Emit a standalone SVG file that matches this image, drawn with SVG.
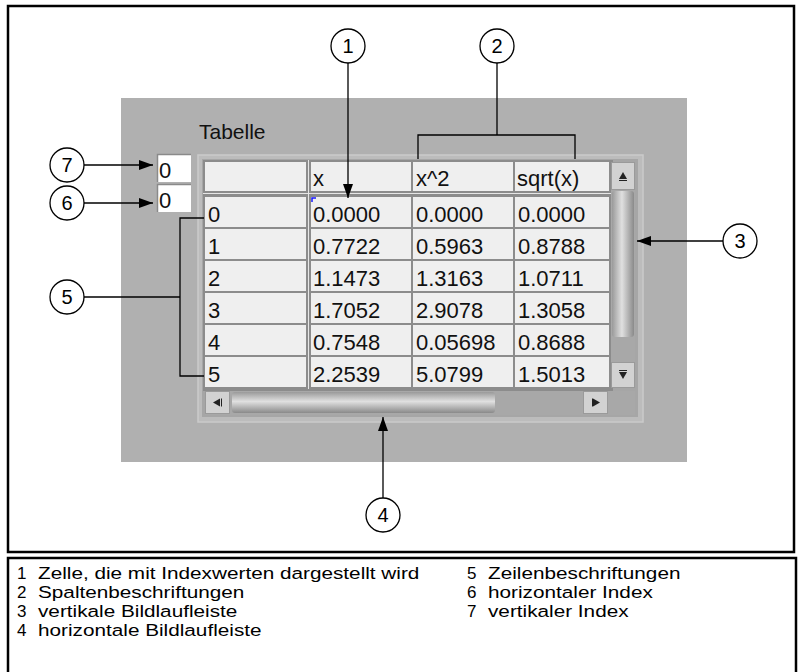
<svg xmlns="http://www.w3.org/2000/svg" width="799" height="672" viewBox="0 0 799 672">
<defs>
<marker id="ah" markerUnits="userSpaceOnUse" markerWidth="15" markerHeight="11" refX="14" refY="5" orient="auto"><path d="M0,0 L14,5 L0,10 z" fill="#000"/></marker>
<linearGradient id="vthumb" x1="0" y1="0" x2="1" y2="0"><stop offset="0" stop-color="#9a9a9a"/><stop offset="0.45" stop-color="#e0e0e0"/><stop offset="1" stop-color="#8a8a8a"/></linearGradient>
<linearGradient id="hthumb" x1="0" y1="0" x2="0" y2="1"><stop offset="0" stop-color="#9a9a9a"/><stop offset="0.45" stop-color="#e0e0e0"/><stop offset="1" stop-color="#8a8a8a"/></linearGradient>
</defs>
<style>
.cell{fill:#efefef}
.t{font-family:"Liberation Sans",Arial,sans-serif;font-size:22px;fill:#111}
.num{font-family:"Liberation Sans",Arial,sans-serif;font-size:20px;fill:#000;text-anchor:middle}
.leg{font-family:"Liberation Sans",Arial,sans-serif;font-size:17px;fill:#000}
.c{fill:#fff;stroke:#000;stroke-width:1.3}
.ln{stroke:#000;stroke-width:1.3;fill:none}
.btn{fill:#d2d2d2;stroke:#9a9a9a;stroke-width:1}
</style>
<rect x="8" y="6" width="786" height="546" fill="#fff" stroke="#000" stroke-width="2.5"/>
<g id="panel">
<rect x="121" y="98" width="566" height="364" fill="#b0b0b0"/>
<text x="199" y="139" class="t" style="font-size:21px">Tabelle</text>
</g>
<g id="table">
<rect x="198" y="155" width="445" height="267" fill="#bcbcbc" stroke="#cacaca" stroke-width="1.5"/>
<rect x="202" y="159" width="436" height="258" fill="#a6a6a6"/>
<rect x="203" y="160" width="410" height="231" fill="#8c8c8c"/>
<rect x="203" y="193" width="408" height="1" fill="#e6e6e6"/>
<rect x="308" y="160" width="1" height="229" fill="#e6e6e6"/>
<g id="cells">
<rect class="cell" x="205" y="162" width="101" height="29"/>
<rect class="cell" x="311" y="162" width="100" height="29"/>
<rect class="cell" x="413" y="162" width="100" height="29"/>
<rect class="cell" x="515" y="162" width="94" height="29"/>
<rect class="cell" x="205" y="197" width="101" height="30"/><rect class="cell" x="311" y="197" width="100" height="30"/><rect class="cell" x="413" y="197" width="100" height="30"/><rect class="cell" x="515" y="197" width="94" height="30"/>
<rect class="cell" x="205" y="229" width="101" height="30"/><rect class="cell" x="311" y="229" width="100" height="30"/><rect class="cell" x="413" y="229" width="100" height="30"/><rect class="cell" x="515" y="229" width="94" height="30"/>
<rect class="cell" x="205" y="261" width="101" height="30"/><rect class="cell" x="311" y="261" width="100" height="30"/><rect class="cell" x="413" y="261" width="100" height="30"/><rect class="cell" x="515" y="261" width="94" height="30"/>
<rect class="cell" x="205" y="293" width="101" height="30"/><rect class="cell" x="311" y="293" width="100" height="30"/><rect class="cell" x="413" y="293" width="100" height="30"/><rect class="cell" x="515" y="293" width="94" height="30"/>
<rect class="cell" x="205" y="325" width="101" height="30"/><rect class="cell" x="311" y="325" width="100" height="30"/><rect class="cell" x="413" y="325" width="100" height="30"/><rect class="cell" x="515" y="325" width="94" height="30"/>
<rect class="cell" x="205" y="357" width="101" height="30"/><rect class="cell" x="311" y="357" width="100" height="30"/><rect class="cell" x="413" y="357" width="100" height="30"/><rect class="cell" x="515" y="357" width="94" height="30"/>
</g>
<path d="M312,202 V198 H316" stroke="#1a1aff" stroke-width="1.5" fill="none"/>
<g id="texts">
<text class="t" x="313" y="186">x</text><text class="t" x="416" y="186">x^2</text><text class="t" x="517" y="186">sqrt(x)</text>
<text class="t" x="208" y="222">0</text><text class="t" x="313" y="222">0.0000</text><text class="t" x="416" y="222">0.0000</text><text class="t" x="518" y="222">0.0000</text>
<text class="t" x="208" y="254">1</text><text class="t" x="313" y="254">0.7722</text><text class="t" x="416" y="254">0.5963</text><text class="t" x="518" y="254">0.8788</text>
<text class="t" x="208" y="286">2</text><text class="t" x="313" y="286">1.1473</text><text class="t" x="416" y="286">1.3163</text><text class="t" x="518" y="286">1.0711</text>
<text class="t" x="208" y="318">3</text><text class="t" x="313" y="318">1.7052</text><text class="t" x="416" y="318">2.9078</text><text class="t" x="518" y="318">1.3058</text>
<text class="t" x="208" y="350">4</text><text class="t" x="313" y="350">0.7548</text><text class="t" x="416" y="350">0.05698</text><text class="t" x="518" y="350">0.8688</text>
<text class="t" x="208" y="382">5</text><text class="t" x="313" y="382">2.2539</text><text class="t" x="416" y="382">5.0799</text><text class="t" x="518" y="382">1.5013</text>
</g>
<g id="vscroll">
<rect x="611" y="162" width="24" height="226" fill="#a8a8a8"/>
<rect class="btn" x="611.5" y="162.5" width="23" height="27"/>
<path d="M619,179 L623,172 L627,179 z" fill="#222"/><rect x="619" y="180" width="8" height="1" fill="#222"/>
<rect x="612" y="191" width="22" height="146" rx="3" fill="url(#vthumb)"/>
<rect class="btn" x="611.5" y="362.5" width="23" height="25"/>
<path d="M619,372 L623,379 L627,372 z" fill="#222"/><rect x="619" y="370" width="8" height="1" fill="#222"/>
</g>
<g id="hscroll">
<rect x="205" y="391" width="430" height="24" fill="#a8a8a8"/>
<rect class="btn" x="205.5" y="391.5" width="24" height="22"/>
<path d="M213,402.5 L220,398.5 L220,406.5 z" fill="#222"/><rect x="221" y="398.5" width="1" height="8" fill="#222"/>
<rect x="232" y="392" width="263" height="21" rx="3" fill="url(#hthumb)"/>
<rect class="btn" x="583.5" y="391.5" width="24" height="22"/>
<path d="M600,402.5 L593,398.5 L593,406.5 z" fill="#222"/><rect x="592" y="398.5" width="1" height="8" fill="#222"/>
</g>
</g>
<g id="index7">
<rect x="157" y="154" width="34" height="28" fill="#fff"/>
<path d="M157.5,182 V154.5 H191" stroke="#8a8a8a" stroke-width="1.5" fill="none"/>
<text class="t" x="159" y="178">0</text>
</g>
<g id="index6">
<rect x="157" y="184" width="34" height="28" fill="#fff"/>
<path d="M157.5,212 V184.5 H191" stroke="#8a8a8a" stroke-width="1.5" fill="none"/>
<text class="t" x="159" y="208">0</text>
</g>
<g id="connectors">
<line class="ln" x1="348" y1="63" x2="348" y2="198" marker-end="url(#ah)"/>
<line class="ln" x1="497" y1="63" x2="497" y2="135"/>
<path class="ln" d="M418,159 V135 H575 V159"/>
<line class="ln" x1="723" y1="241" x2="637" y2="241" marker-end="url(#ah)"/>
<line class="ln" x1="383" y1="498" x2="383" y2="417" marker-end="url(#ah)"/>
<line class="ln" x1="84" y1="165" x2="153" y2="165" marker-end="url(#ah)"/>
<line class="ln" x1="84" y1="203" x2="153" y2="203" marker-end="url(#ah)"/>
<line class="ln" x1="84" y1="297" x2="180" y2="297"/>
<path class="ln" d="M204,218 H180 V376 H204"/>
</g>
<g id="callout1"><circle class="c" cx="348" cy="46" r="17"/><text class="num" x="348" y="53">1</text></g>
<g id="callout2"><circle class="c" cx="497" cy="46" r="17"/><text class="num" x="497" y="53">2</text></g>
<g id="callout3"><circle class="c" cx="740" cy="241" r="17"/><text class="num" x="740" y="248">3</text></g>
<g id="callout4"><circle class="c" cx="383" cy="515" r="17"/><text class="num" x="383" y="522">4</text></g>
<g id="callout5"><circle class="c" cx="67" cy="297" r="17"/><text class="num" x="67" y="304">5</text></g>
<g id="callout6"><circle class="c" cx="67" cy="203" r="17"/><text class="num" x="67" y="210">6</text></g>
<g id="callout7"><circle class="c" cx="67" cy="165" r="17"/><text class="num" x="67" y="172">7</text></g>
<g id="legend">
<path d="M8,672 V558 H796 V672" fill="none" stroke="#000" stroke-width="2.5"/>
<text class="leg" x="17" y="579">1</text><text class="leg" transform="translate(38,579) scale(1.22,1)">Zelle, die mit Indexwerten dargestellt wird</text>
<text class="leg" x="17" y="598">2</text><text class="leg" transform="translate(38,598) scale(1.22,1)">Spaltenbeschriftungen</text>
<text class="leg" x="17" y="617">3</text><text class="leg" transform="translate(38,617) scale(1.22,1)">vertikale Bildlaufleiste</text>
<text class="leg" x="17" y="636">4</text><text class="leg" transform="translate(38,636) scale(1.22,1)">horizontale Bildlaufleiste</text>
<text class="leg" x="467" y="579">5</text><text class="leg" transform="translate(488,579) scale(1.22,1)">Zeilenbeschriftungen</text>
<text class="leg" x="467" y="598">6</text><text class="leg" transform="translate(488,598) scale(1.22,1)">horizontaler Index</text>
<text class="leg" x="467" y="617">7</text><text class="leg" transform="translate(488,617) scale(1.22,1)">vertikaler Index</text>
</g>
</svg>
